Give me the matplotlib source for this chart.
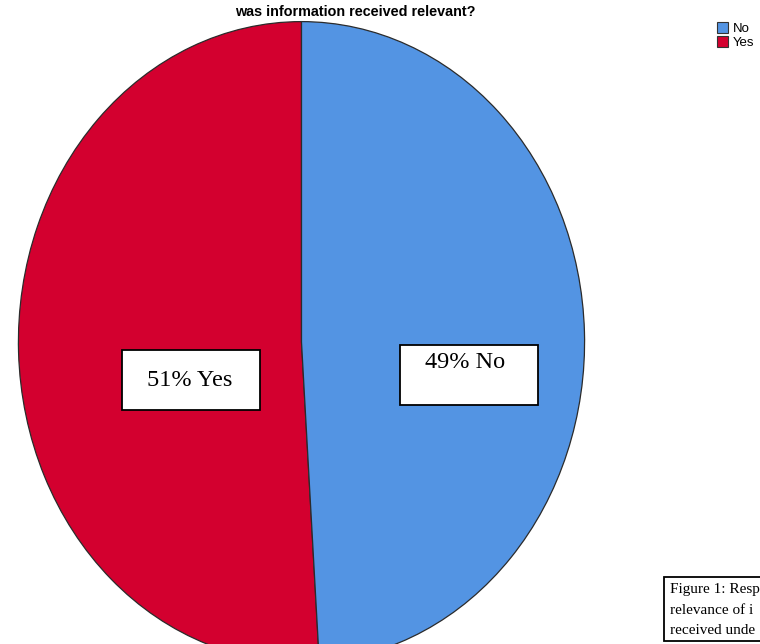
import matplotlib
matplotlib.use("Agg")
import matplotlib.pyplot as plt
from matplotlib.patches import Rectangle, Patch

# data
labels = ["Yes", "No"]
shares = [51, 49]
colors = ["#D3002F", "#5394E3"]
legend_labels = ["No", "Yes"]
box_texts = ["51% Yes", "49% No"]
# caption as far as it is visible in the source
caption_lines = ["Figure 1: Resp", "relevance of i", "received unde"]
title = "was information received relevant?"

W, H = 760, 644
fig = plt.figure(figsize=(W / 100, H / 100), dpi=100)
fig.patch.set_facecolor("white")

def fx(px):
    return px / W

def fy(py):
    return 1 - py / H

# pie (slightly stretched, so aspect is auto)
ax = fig.add_axes([fx(17), fy(664), fx(586) - fx(17), fy(20) - fy(664)])
ax.pie(shares, colors=colors, startangle=90, counterclock=True,
       wedgeprops=dict(edgecolor="#2b2b2b", linewidth=0.9))
ax.set_aspect("auto")
ax.set_xlim(-1.005, 1.005)
ax.set_ylim(-1.005, 1.005)
ax.axis("off")

fig.text(fx(355), fy(12), title, ha="center", va="center",
         fontsize=10.4, fontweight="bold", family="Liberation Sans")

# legend
leg_handles = [Patch(facecolor=colors[1], edgecolor="#333333", linewidth=0.8),
               Patch(facecolor=colors[0], edgecolor="#333333", linewidth=0.8)]
fig.legend(leg_handles, legend_labels, loc="upper left",
           bbox_to_anchor=(fx(708), fy(13)), frameon=False,
           prop=dict(family="Liberation Sans", size=9.5),
           handlelength=0.85, handleheight=0.85, handletextpad=0.3,
           labelspacing=0.1, borderpad=0.2)

# annotation boxes
boxes = [(122, 350, 138, 60, 147, 380), (400, 345, 138, 60, 425, 362)]
for (bx, by, bw, bh, tx, ty), t in zip(boxes, box_texts):
    fig.patches.append(Rectangle((fx(bx), fy(by + bh)), bw / W, bh / H,
                                 transform=fig.transFigure, facecolor="white",
                                 edgecolor="black", linewidth=1.3))
    fig.text(fx(tx), fy(ty), t, ha="left", va="center", fontsize=17.5,
             family="Liberation Serif")

# caption box (runs off the right edge)
fig.patches.append(Rectangle((fx(664), fy(641)), 200 / W, (641 - 577) / H,
                             transform=fig.transFigure, facecolor="white",
                             edgecolor="black", linewidth=1.3))
for i, line in enumerate(caption_lines):
    fig.text(fx(670), fy(590 + i * 20), line, ha="left", va="center",
             fontsize=11, family="Liberation Serif")

fig.savefig("out.png", dpi=100)
